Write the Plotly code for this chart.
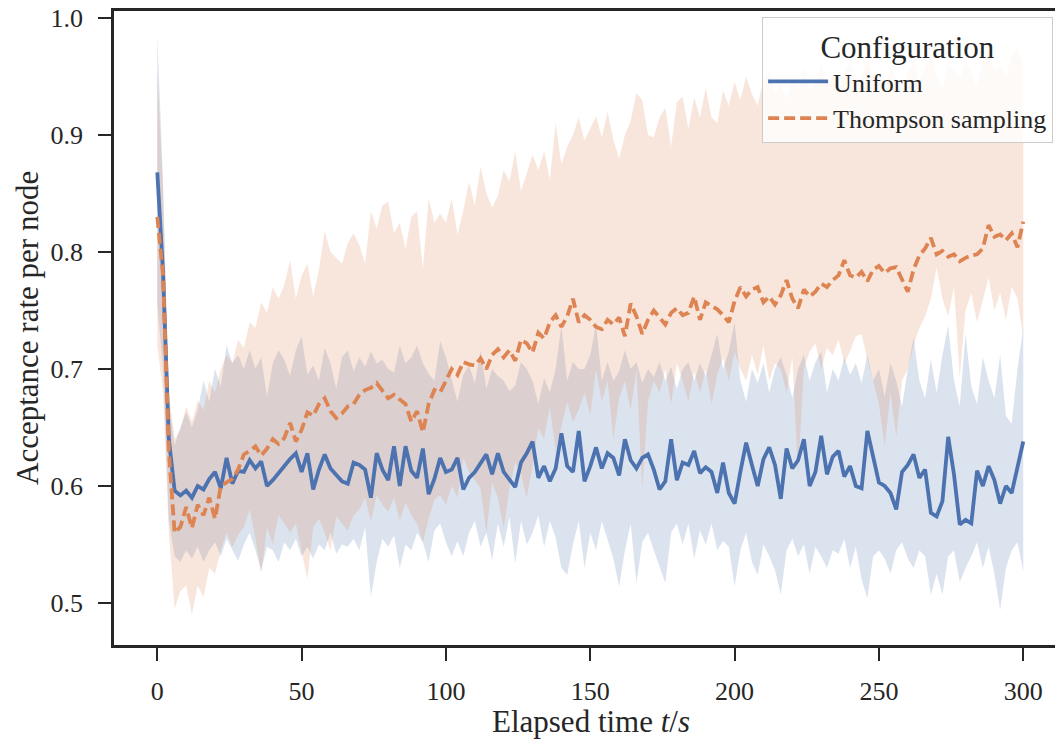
import plotly.graph_objects as go

# Elapsed time (s), sampled every 2 s
time_s = list(range(0, 301, 2))

# Uniform configuration: mean and confidence band
uniform_mean = [
    0.868, 0.782, 0.640, 0.596, 0.592, 0.596, 0.590, 0.600, 0.597, 0.606, 0.612, 0.598,
    0.624, 0.602, 0.613, 0.612, 0.622, 0.615, 0.621, 0.600, 0.605, 0.611, 0.618, 0.623,
    0.628, 0.612, 0.628, 0.597, 0.614, 0.627, 0.615, 0.610, 0.604, 0.602, 0.620, 0.618, 0.614,
    0.590, 0.628, 0.614, 0.605, 0.634, 0.600, 0.634, 0.613, 0.607, 0.632, 0.593, 0.606, 0.624,
    0.612, 0.614, 0.624, 0.597, 0.607, 0.612, 0.620, 0.627, 0.610, 0.628, 0.612, 0.606,
    0.599, 0.620, 0.628, 0.638, 0.607, 0.617, 0.604, 0.615, 0.645, 0.617, 0.612, 0.647,
    0.604, 0.617, 0.633, 0.615, 0.628, 0.624, 0.609, 0.640, 0.622, 0.615, 0.624, 0.627, 0.614,
    0.597, 0.604, 0.640, 0.605, 0.620, 0.618, 0.630, 0.611, 0.616, 0.612, 0.594, 0.620, 0.594,
    0.585, 0.612, 0.637, 0.618, 0.600, 0.623, 0.633, 0.618, 0.589, 0.632, 0.615, 0.622,
    0.640, 0.600, 0.612, 0.643, 0.610, 0.625, 0.630, 0.608, 0.617, 0.600, 0.598, 0.647,
    0.624, 0.603, 0.600, 0.594, 0.580, 0.612, 0.618, 0.627, 0.607, 0.614, 0.577, 0.574, 0.587, 0.642,
    0.610, 0.567, 0.571, 0.568, 0.613, 0.600, 0.617, 0.605, 0.585, 0.600, 0.594, 0.615, 0.638,
]
uniform_lower = [
    0.755, 0.700, 0.570, 0.540, 0.535, 0.545, 0.538, 0.548, 0.535, 0.545, 0.552, 0.540,
    0.555, 0.545, 0.536, 0.550, 0.560, 0.545, 0.528, 0.548, 0.545, 0.535, 0.552, 0.545,
    0.555, 0.540, 0.548, 0.538, 0.550, 0.545, 0.560, 0.542, 0.550, 0.548, 0.555, 0.545, 0.565,
    0.505, 0.535, 0.555, 0.548, 0.558, 0.530, 0.550, 0.545, 0.560, 0.552, 0.535, 0.562, 0.568,
    0.552, 0.540, 0.553, 0.540, 0.560, 0.570, 0.548, 0.560, 0.537, 0.568, 0.548, 0.574,
    0.534, 0.570, 0.550, 0.560, 0.575, 0.548, 0.570, 0.556, 0.530, 0.524, 0.550, 0.570,
    0.530, 0.560, 0.545, 0.570, 0.555, 0.538, 0.514, 0.545, 0.568, 0.517, 0.552, 0.560, 0.545,
    0.530, 0.517, 0.560, 0.568, 0.550, 0.568, 0.538, 0.562, 0.550, 0.568, 0.545, 0.553, 0.548,
    0.514, 0.545, 0.560, 0.535, 0.524, 0.550, 0.540, 0.528, 0.507, 0.545, 0.555, 0.540,
    0.550, 0.525, 0.548, 0.540, 0.530, 0.545, 0.542, 0.555, 0.530, 0.548, 0.520, 0.504,
    0.540, 0.545, 0.538, 0.525, 0.545, 0.552, 0.538, 0.530, 0.545, 0.540, 0.507, 0.525, 0.507, 0.540,
    0.545, 0.518, 0.530, 0.540, 0.552, 0.530, 0.548, 0.525, 0.494, 0.530, 0.545, 0.552, 0.527,
]
uniform_upper = [
    0.985, 0.860, 0.670, 0.635, 0.650, 0.663, 0.650, 0.665, 0.690, 0.672, 0.700, 0.685,
    0.720, 0.705, 0.712, 0.700, 0.716, 0.700, 0.710, 0.676, 0.705, 0.716, 0.708, 0.694,
    0.716, 0.728, 0.695, 0.703, 0.690, 0.718, 0.705, 0.683, 0.710, 0.716, 0.698, 0.710, 0.702,
    0.715, 0.705, 0.708, 0.700, 0.697, 0.720, 0.705, 0.710, 0.720, 0.705, 0.696, 0.690, 0.724,
    0.710, 0.690, 0.672, 0.695, 0.703, 0.688, 0.716, 0.683, 0.700, 0.694, 0.690, 0.681,
    0.686, 0.706, 0.700, 0.690, 0.670, 0.692, 0.680, 0.700, 0.737, 0.690, 0.706, 0.700,
    0.700, 0.712, 0.738, 0.690, 0.706, 0.690, 0.698, 0.716, 0.700, 0.706, 0.688, 0.700, 0.693,
    0.706, 0.690, 0.702, 0.683, 0.700, 0.706, 0.690, 0.705, 0.694, 0.712, 0.730, 0.700, 0.715,
    0.740, 0.690, 0.672, 0.700, 0.688, 0.705, 0.680, 0.700, 0.710, 0.695, 0.675, 0.700,
    0.712, 0.690, 0.706, 0.715, 0.680, 0.700, 0.690, 0.710, 0.695, 0.705, 0.688, 0.712,
    0.690, 0.700, 0.676, 0.705, 0.690, 0.668, 0.700, 0.727, 0.690, 0.675, 0.708, 0.680, 0.712, 0.737,
    0.690, 0.668, 0.730, 0.685, 0.670, 0.710, 0.690, 0.675, 0.712, 0.660, 0.653, 0.700, 0.735,
]

# Thompson sampling configuration: mean and confidence band
thompson_mean = [
    0.830, 0.780, 0.630, 0.560, 0.565, 0.582, 0.564, 0.584, 0.575, 0.590, 0.572, 0.600,
    0.603, 0.606, 0.614, 0.627, 0.630, 0.634, 0.626, 0.632, 0.640, 0.636, 0.641, 0.654,
    0.638, 0.648, 0.663, 0.660, 0.670, 0.675, 0.664, 0.658, 0.662, 0.668, 0.670, 0.678, 0.682,
    0.684, 0.688, 0.682, 0.675, 0.678, 0.674, 0.670, 0.655, 0.664, 0.646, 0.670, 0.682, 0.680,
    0.690, 0.700, 0.695, 0.706, 0.704, 0.703, 0.709, 0.700, 0.712, 0.717, 0.710, 0.716,
    0.707, 0.725, 0.722, 0.714, 0.731, 0.726, 0.740, 0.746, 0.736, 0.745, 0.760, 0.740,
    0.746, 0.742, 0.736, 0.734, 0.742, 0.738, 0.744, 0.728, 0.756, 0.745, 0.730, 0.742, 0.750,
    0.744, 0.738, 0.748, 0.752, 0.746, 0.748, 0.762, 0.742, 0.757, 0.754, 0.751, 0.746, 0.740,
    0.758, 0.770, 0.762, 0.768, 0.770, 0.757, 0.762, 0.755, 0.763, 0.776, 0.760, 0.752,
    0.768, 0.762, 0.766, 0.773, 0.770, 0.776, 0.780, 0.793, 0.780, 0.778, 0.783, 0.775,
    0.785, 0.788, 0.782, 0.786, 0.787, 0.776, 0.766, 0.785, 0.797, 0.803, 0.812, 0.798, 0.801, 0.796,
    0.798, 0.792, 0.795, 0.797, 0.798, 0.803, 0.823, 0.813, 0.815, 0.810, 0.816, 0.804, 0.826,
]
thompson_lower = [
    0.720, 0.680, 0.560, 0.495, 0.510, 0.515, 0.490, 0.515, 0.505, 0.530, 0.525, 0.545,
    0.560, 0.548, 0.558, 0.565, 0.580, 0.555, 0.525, 0.565, 0.550, 0.575, 0.568, 0.560,
    0.568, 0.545, 0.520, 0.565, 0.572, 0.560, 0.545, 0.574, 0.568, 0.562, 0.575, 0.580, 0.590,
    0.570, 0.592, 0.584, 0.578, 0.590, 0.570, 0.586, 0.575, 0.568, 0.552, 0.572, 0.588, 0.592,
    0.584, 0.600, 0.590, 0.624, 0.612, 0.605, 0.598, 0.560, 0.603, 0.590, 0.564, 0.598,
    0.620, 0.610, 0.590, 0.618, 0.650, 0.640, 0.668, 0.630, 0.650, 0.672, 0.655, 0.665,
    0.680, 0.660, 0.700, 0.672, 0.690, 0.640, 0.675, 0.690, 0.665, 0.700, 0.598, 0.672, 0.690,
    0.680, 0.700, 0.670, 0.705, 0.690, 0.672, 0.698, 0.680, 0.700, 0.670, 0.695, 0.710, 0.690,
    0.715, 0.700, 0.690, 0.712, 0.695, 0.720, 0.690, 0.705, 0.700, 0.680, 0.710, 0.610,
    0.700, 0.715, 0.722, 0.700, 0.718, 0.712, 0.725, 0.705, 0.715, 0.728, 0.730, 0.708,
    0.690, 0.670, 0.634, 0.680, 0.642, 0.690, 0.700, 0.720, 0.735, 0.745, 0.760, 0.787, 0.760, 0.745,
    0.770, 0.693, 0.750, 0.765, 0.740, 0.760, 0.778, 0.750, 0.765, 0.742, 0.770, 0.760, 0.727,
]
thompson_upper = [
    0.955, 0.850, 0.680, 0.640, 0.648, 0.668, 0.655, 0.673, 0.665, 0.690, 0.680, 0.700,
    0.712, 0.705, 0.725, 0.718, 0.740, 0.735, 0.757, 0.748, 0.770, 0.760, 0.772, 0.793,
    0.760, 0.780, 0.790, 0.762, 0.785, 0.818, 0.800, 0.795, 0.790, 0.808, 0.816, 0.806, 0.790,
    0.835, 0.820, 0.840, 0.843, 0.816, 0.825, 0.803, 0.830, 0.835, 0.785, 0.846, 0.825, 0.833,
    0.825, 0.846, 0.815, 0.835, 0.860, 0.840, 0.873, 0.850, 0.838, 0.848, 0.870, 0.860,
    0.886, 0.852, 0.868, 0.883, 0.870, 0.886, 0.862, 0.910, 0.875, 0.890, 0.900, 0.915,
    0.895, 0.905, 0.916, 0.898, 0.920, 0.896, 0.880, 0.900, 0.912, 0.936, 0.930, 0.900, 0.898,
    0.915, 0.923, 0.890, 0.928, 0.933, 0.905, 0.932, 0.915, 0.940, 0.915, 0.910, 0.938, 0.925,
    0.945, 0.930, 0.950, 0.935, 0.925, 0.948, 0.955, 0.935, 0.945, 0.930, 0.950, 0.940,
    0.958, 0.938, 0.945, 0.960, 0.942, 0.952, 0.935, 0.955, 0.962, 0.945, 0.950, 0.966,
    0.945, 0.955, 0.938, 0.958, 0.948, 0.935, 0.952, 0.965, 0.945, 0.958, 0.968, 0.950, 0.940, 0.960,
    0.955, 0.948, 0.962, 0.955, 0.940, 0.965, 0.972, 0.955, 0.960, 0.950, 0.968, 0.975, 0.960,
]

for arr in (uniform_mean, uniform_lower, uniform_upper,
            thompson_mean, thompson_lower, thompson_upper):
    assert len(arr) == len(time_s), len(arr)

x_ticks = [0, 50, 100, 150, 200, 250, 300]
y_ticks = [0.5, 0.6, 0.7, 0.8, 0.9, 1.0]

BLUE = "#4C72B0"
ORANGE = "#DD8452"
INK = "#262626"
FONT = "Liberation Serif"

fig = go.Figure()
# confidence bands
fig.add_trace(go.Scatter(x=time_s, y=uniform_lower, mode="lines", line=dict(width=0),
                         showlegend=False, hoverinfo="skip"))
fig.add_trace(go.Scatter(x=time_s, y=uniform_upper, mode="lines", line=dict(width=0),
                         fill="tonexty", fillcolor="rgba(76,114,176,0.2)",
                         showlegend=False, hoverinfo="skip"))
fig.add_trace(go.Scatter(x=time_s, y=thompson_lower, mode="lines", line=dict(width=0),
                         showlegend=False, hoverinfo="skip"))
fig.add_trace(go.Scatter(x=time_s, y=thompson_upper, mode="lines", line=dict(width=0),
                         fill="tonexty", fillcolor="rgba(221,132,82,0.2)",
                         showlegend=False, hoverinfo="skip"))
# mean lines
fig.add_trace(go.Scatter(x=time_s, y=uniform_mean, mode="lines", name="Uniform",
                         line=dict(color=BLUE, width=3.8)))
fig.add_trace(go.Scatter(x=time_s, y=thompson_mean, mode="lines", name="Thompson sampling",
                         line=dict(color=ORANGE, width=3.8, dash="11px,5px")))

axis_common = dict(
    showline=True, linewidth=2.5, linecolor=INK,
    ticks="outside", ticklen=13, tickwidth=2, tickcolor=INK,
    showgrid=False, zeroline=False, automargin=False,
    ticklabeloverflow="allow",
    tickfont=dict(family=FONT, size=26, color=INK),
)

fig.update_layout(
    width=1055, height=742,
    margin=dict(l=114, r=0, t=11, b=97, autoexpand=False),
    paper_bgcolor="white", plot_bgcolor="white",
    font=dict(family=FONT, color=INK),
    xaxis=dict(range=[-15, 311], tickvals=x_ticks, mirror=True,
               ticklabelstandoff=8, **axis_common),
    yaxis=dict(range=[0.4641, 1.0060], tickvals=y_ticks, tickformat=".1f",
               ticklabelstandoff=10, **axis_common),
    legend=dict(
        x=0.998, xanchor="right", y=0.991, yanchor="top",
        traceorder="normal",
        bgcolor="rgba(255,255,255,0.8)", bordercolor="#cccccc", borderwidth=1,
        font=dict(family=FONT, size=26, color=INK),
        title=dict(text="Configuration", side="top center",
                   font=dict(family=FONT, size=31, color=INK)),
        itemwidth=60,
    ),
    annotations=[
        dict(text="Elapsed time <i>t</i>/<i>s</i>", xref="paper", yref="paper",
             x=0.507, y=-0.121, xanchor="center", yanchor="middle", showarrow=False,
             font=dict(family=FONT, size=31, color=INK)),
        dict(text="Acceptance rate per node", xref="paper", yref="paper",
             x=-0.0925, y=0.5, xanchor="center", yanchor="middle", showarrow=False,
             textangle=-90, font=dict(family=FONT, size=31, color=INK)),
    ],
)

# remove the browser's default 8 px body margin so the figure fills the window
fig.write_html("out.html",
               config={"displayModeBar": False},
               post_script="document.body.style.margin='0';document.body.style.overflow='hidden';")
